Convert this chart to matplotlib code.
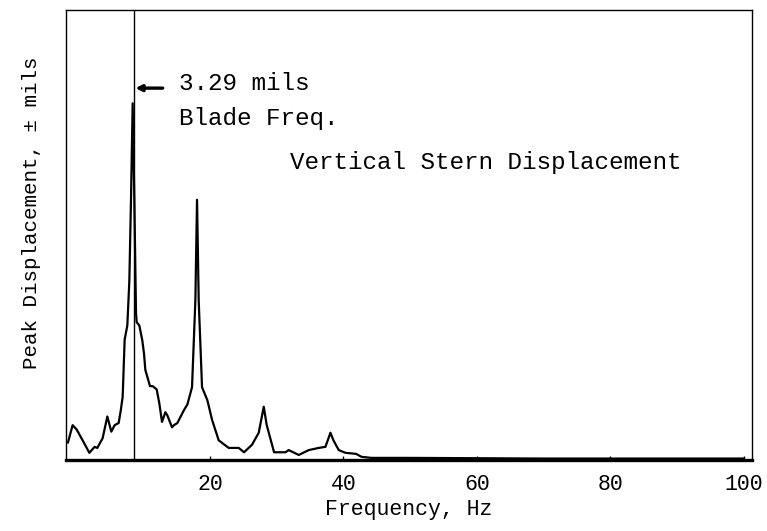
import matplotlib
matplotlib.use("Agg")
import matplotlib.pyplot as plt

# Vertical stern displacement spectrum
freq_hz = [-1.3, -0.6, 0.0, 0.9, 1.9, 2.7, 3.1, 3.9, 4.6, 5.2, 5.7, 6.3, 6.6, 6.9,
           7.2, 7.6, 7.9, 8.15, 8.4, 8.65, 8.9, 9.0, 9.4, 9.85, 10.1, 10.3, 11.0,
           11.4, 12.0, 12.4, 12.8, 13.3, 13.6, 14.3, 14.6, 15.1, 16.1, 16.6, 17.3,
           17.8, 18.05, 18.3, 18.8, 19.6, 20.3, 21.3, 22.8, 24.3, 25.1, 26.3, 27.3,
           28.05, 28.5, 29.6, 31.3, 31.8, 33.3, 34.8, 36.3, 37.3, 38.05, 38.5, 39.3,
           40.3, 41.9, 42.7, 44.2, 50, 60, 70, 80, 90, 100]
disp_mils = [0.16, 0.32, 0.28, 0.18, 0.065, 0.12, 0.11, 0.20, 0.40, 0.26, 0.32, 0.34,
             0.45, 0.58, 1.11, 1.24, 1.65, 2.40, 3.29, 2.40, 1.36, 1.27, 1.24, 1.10,
             0.98, 0.83, 0.68, 0.68, 0.65, 0.52, 0.35, 0.44, 0.41, 0.30, 0.32, 0.34,
             0.46, 0.51, 0.67, 1.47, 2.40, 1.47, 0.67, 0.55, 0.37, 0.18, 0.11, 0.11,
             0.07, 0.14, 0.25, 0.49, 0.32, 0.07, 0.07, 0.09, 0.045, 0.09, 0.11, 0.12,
             0.25, 0.18, 0.09, 0.065, 0.055, 0.028, 0.018, 0.018, 0.015, 0.012,
             0.012, 0.012, 0.012]

blade_freq_hz = 8.6
peak_value_mils = 3.29
xticks = [20, 40, 60, 80, 100]
xtick_labels = ["20", "40", "60", "80", "100"]

mono = "Liberation Mono"

fig = plt.figure(figsize=(7.67, 5.31), dpi=100)
ax = fig.add_axes([0.086, 0.134, 0.894, 0.847])

ax.plot(freq_hz, disp_mils, color="black", lw=1.6)
ax.axvline(blade_freq_hz, color="black", lw=1.0)

ax.set_xlim(-1.6, 101.2)
ax.set_ylim(0, 4.15)

ax.set_xticks(xticks)
ax.set_xticklabels(xtick_labels, fontfamily=mono, fontsize=15.5)
ax.set_yticks([])
ax.tick_params(axis="x", direction="in", length=3, width=1, pad=10)

for side in ["left", "right", "top"]:
    ax.spines[side].set_linewidth(1.0)
ax.spines["bottom"].set_linewidth(2.4)

ax.set_xlabel("Frequency, Hz", fontfamily=mono, fontsize=15.5, labelpad=3)
ax.set_ylabel("Peak Displacement, \u00b1 mils", fontfamily=mono, fontsize=15)
ax.yaxis.set_label_coords(-0.036, 0.55)

ax.annotate("", xy=(blade_freq_hz + 0.2, 3.43), xytext=(12.9, 3.43),
            arrowprops=dict(arrowstyle="-|>", color="black", lw=2.4,
                            mutation_scale=9, shrinkA=0, shrinkB=0))
ax.text(15.3, 3.47, f"{peak_value_mils:.2f} mils", fontfamily=mono, fontsize=17.5,
        va="center", ha="left")
ax.text(15.3, 3.15, "Blade Freq.", fontfamily=mono, fontsize=17.5,
        va="center", ha="left")
ax.text(32.0, 2.74, "Vertical Stern Displacement", fontfamily=mono, fontsize=17.5,
        va="center", ha="left")

fig.savefig("out.png", dpi=100)
